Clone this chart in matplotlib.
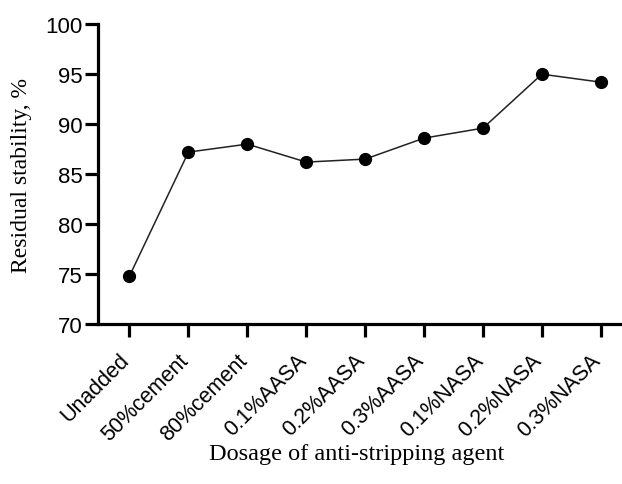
import matplotlib
matplotlib.use('Agg')
import matplotlib.pyplot as plt
import numpy as np

# values
dosages = ['Unadded', '50%cement', '80%cement', '0.1%AASA', '0.2%AASA',
           '0.3%AASA', '0.1%NASA', '0.2%NASA', '0.3%NASA']
stability = [74.8, 87.2, 88.0, 86.2, 86.5, 88.6, 89.6, 95.0, 94.2]

yticks = [70, 75, 80, 85, 90, 95, 100]

fig = plt.figure(figsize=(6.22, 4.85), dpi=100)
ax = fig.add_axes([0.158, 0.330, 0.842, 0.618])

x = np.arange(len(dosages))
ax.plot(x, stability, color='#222222', linewidth=1.1, marker='o',
        markersize=8.5, markerfacecolor='black', markeredgecolor='black',
        clip_on=False, zorder=3)

ax.set_ylim(70, 100)
ax.set_xlim(-0.53, 8.36)
ax.set_yticks(yticks)
ax.set_xticks(x)
ax.set_xticklabels([])
# rotated category labels, offset a bit left/down of each tick
for xi, lab in zip(x, dosages):
    ax.annotate(lab, xy=(xi, 0), xycoords=('data', 'axes fraction'),
                xytext=(-2.2, -23.5), textcoords='offset points',
                rotation=45, ha='right', va='center', rotation_mode='anchor',
                family='Liberation Sans', fontsize=15.5, annotation_clip=False)
for t in ax.get_yticklabels():
    t.set_family('Liberation Sans')
    t.set_fontsize(16)

for s in ['top', 'right']:
    ax.spines[s].set_visible(False)
for s in ['left', 'bottom']:
    ax.spines[s].set_linewidth(2.3)
ax.tick_params(axis='both', direction='out', length=9.5, width=2.3, pad=1.5)

ax.set_ylabel('Residual stability, %', family='Liberation Serif',
              fontsize=17, labelpad=10)
fig.text(0.574, 0.062, 'Dosage of anti-stripping agent', ha='center',
         va='center', family='Liberation Serif', fontsize=17.5)

fig.savefig('out.png', dpi=100)
